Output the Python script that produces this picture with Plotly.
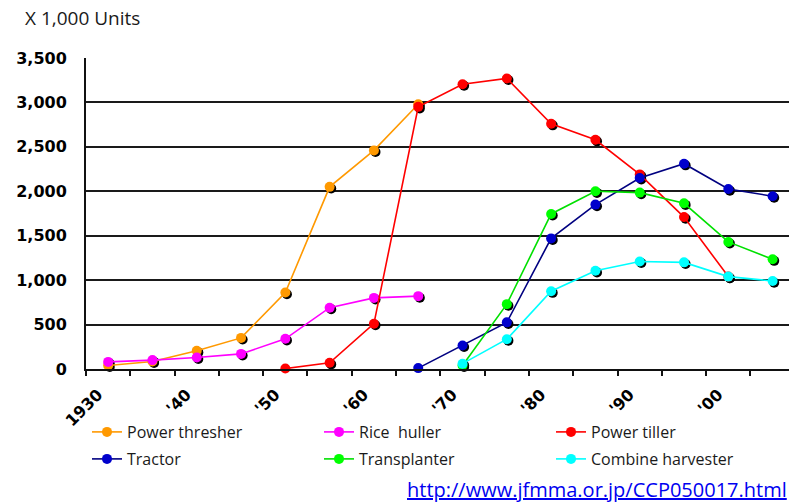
import plotly.graph_objects as go

# Farm machinery in use in Japan, thousands of units, five-year steps
thresher_years = [1930, 1935, 1940, 1945, 1950, 1955, 1960, 1965]
thresher_units = [40, 85, 205, 350, 860, 2050, 2460, 2980]

huller_years = [1930, 1935, 1940, 1945, 1950, 1955, 1960, 1965]
huller_units = [80, 100, 130, 170, 340, 690, 800, 820]

tiller_years = [1950, 1955, 1960, 1965, 1970, 1975, 1980, 1985, 1990, 1995, 2000]
tiller_units = [5, 70, 510, 2950, 3205, 3270, 2760, 2580, 2190, 1710, 1040]

tractor_years = [1965, 1970, 1975, 1980, 1985, 1990, 1995, 2000, 2005]
tractor_units = [10, 265, 525, 1470, 1850, 2150, 2310, 2025, 1945]

transplanter_years = [1970, 1975, 1980, 1985, 1990, 1995, 2000, 2005]
transplanter_units = [40, 730, 1745, 2000, 1985, 1865, 1430, 1235]

combine_years = [1970, 1975, 1980, 1985, 1990, 1995, 2000, 2005]
combine_units = [60, 335, 875, 1105, 1210, 1200, 1040, 990]

tick_text = ["1930", "'40", "'50", "'60", "'70", "'80", "'90", "'00"]
y_ticks = [0, 500, 1000, 1500, 2000, 2500, 3000, 3500]
y_text = ["0", "500", "1,000", "1,500", "2,000", "2,500", "3,000", "3,500"]

# tick marks sit on the boundaries between five-year categories; every
# second boundary carries the decade label, shifted over to the category centre
boundary_years = [1927.5 + 5 * k for k in range(17)]
boundary_text = []
for k in range(len(boundary_years)):
    boundary_text.append(tick_text[k // 2] if k % 2 == 0 and k // 2 < len(tick_text) else "")

series = [
    ("Power thresher", thresher_years, thresher_units, "#FF9900", "#FF9900", "legend"),
    ("Rice  huller", huller_years, huller_units, "#FF00FF", "#FF00FF", "legend"),
    ("Power tiller", tiller_years, tiller_units, "#FF0000", "#FF0000", "legend"),
    ("Tractor", tractor_years, tractor_units, "#000080", "#0000CC", "legend2"),
    ("Transplanter", transplanter_years, transplanter_units, "#00E000", "#00FF00", "legend2"),
    ("Combine harvester", combine_years, combine_units, "#00FFFF", "#00FFFF", "legend2"),
]

X0, X1 = 1927.5, 2006.85
Y0, Y1 = 0, 3500
PX_PER_YEAR = 44.3 / 5
# pixel offsets of the drop shadow under each marker
dx = 1.6 / PX_PER_YEAR
dy = 1.6 * 3500 / 311

fig = go.Figure()

# empty trace so the base subplot (grid, axes, labels) is rendered
fig.add_trace(go.Scatter(x=[], y=[], mode="markers", showlegend=False,
                         hoverinfo="skip"))

# shadows, on an overlay whose range is shifted so markers sit down-right
for name, xs, ys, lc, mc, lg in series:
    fig.add_trace(go.Scatter(
        x=xs, y=ys, mode="markers", xaxis="x2", yaxis="y2",
        marker=dict(size=10, color="#000000"), showlegend=False,
        hoverinfo="skip", cliponaxis=False,
    ))

for name, xs, ys, lc, mc, lg in series:
    fig.add_trace(go.Scatter(
        x=xs, y=ys, name=name, mode="lines+markers", xaxis="x3", yaxis="y3",
        line=dict(color=lc, width=1.6),
        marker=dict(size=10, color=mc, line=dict(width=0)),
        legend=lg, cliponaxis=False,
    ))

legend_font = dict(family="Open Sans", size=16, color="#1a1a1a")

fig.update_layout(
    width=789, height=502,
    margin=dict(l=86, r=0, t=58, b=133, autoexpand=False),
    paper_bgcolor="white", plot_bgcolor="white",
    title=dict(text="X 1,000 Units", x=25 / 789, xanchor="left", xref="container",
               y=1 - 18 / 502, yanchor="middle", yref="container",
               font=dict(family="Open Sans", size=19, color="#1a1a1a")),
    xaxis=dict(
        range=[X0, X1], showgrid=False, zeroline=False,
        showline=True, linecolor="#111111", linewidth=2,
        tickvals=boundary_years, ticktext=boundary_text, tickangle=-45,
        ticks="outside", ticklen=5, tickwidth=1.5, tickcolor="#111111",
        ticklabelshift=round(2.5 * PX_PER_YEAR) - 10, ticklabelstandoff=3,
        tickfont=dict(family="DejaVu Sans", size=16, weight="bold", color="#000000"),
    ),
    yaxis=dict(
        range=[Y0, Y1], zeroline=False, showline=True, linecolor="#111111",
        linewidth=2, showgrid=True, gridcolor="#1a1a1a", gridwidth=1.5,
        tickvals=y_ticks, ticktext=y_text, ticks="",
        ticklabelstandoff=14,
        tickfont=dict(family="DejaVu Sans", size=16, weight="bold", color="#000000"),
    ),
    xaxis2=dict(range=[X0 - dx, X1 - dx], overlaying="x", visible=False),
    yaxis2=dict(range=[Y0 + dy, Y1 + dy], overlaying="y", visible=False),
    xaxis3=dict(range=[X0, X1], overlaying="x", visible=False),
    yaxis3=dict(range=[Y0, Y1], overlaying="y", visible=False),
    legend=dict(orientation="h", x=(87 - 86) / 703, y=(369 - 432) / 311,
                xanchor="left", yanchor="middle", entrywidth=187,
                entrywidthmode="pixels", font=legend_font, bgcolor="rgba(0,0,0,0)"),
    legend2=dict(orientation="h", x=(87 - 86) / 703, y=(369 - 459) / 311,
                 xanchor="left", yanchor="middle", entrywidth=187,
                 entrywidthmode="pixels", font=legend_font, bgcolor="rgba(0,0,0,0)"),
    annotations=[dict(
        text="<u>http://www.jfmma.or.jp/CCP050017.html</u>",
        xref="paper", yref="paper", x=1, y=(369 - 490) / 311,
        xanchor="right", yanchor="middle", showarrow=False,
        font=dict(family="Open Sans", size=20, color="#0000F0"),
    )],
    showlegend=True,
)

fig.write_html("out.html")
